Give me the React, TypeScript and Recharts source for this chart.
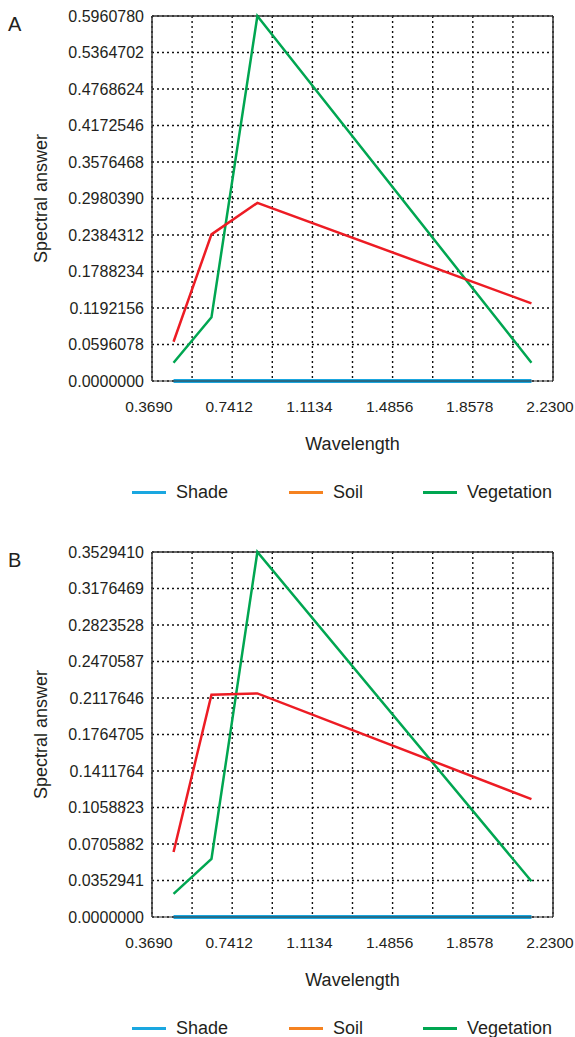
import { CartesianGrid, Legend, Line, LineChart, ReferenceLine, XAxis, YAxis } from "recharts";

// wavelengths (µm) of the four sampled bands
const wavelength = [0.469, 0.645, 0.858, 2.13];

// panel A
const shadeA = [0, 0, 0, 0];
const soilA = [0.0641, 0.2394, 0.2909, 0.1268];
const vegetationA = [0.0299, 0.104, 0.596078, 0.0299];
const yTicksA = [0, 0.0596078, 0.1192156, 0.1788234, 0.2384312, 0.298039,
  0.3576468, 0.4172546, 0.4768624, 0.5364702, 0.596078];

// panel B
const shadeB = [0, 0, 0, 0];
const soilB = [0.0629, 0.215, 0.2162, 0.114];
const vegetationB = [0.0224, 0.0561, 0.352941, 0.0345];
const yTicksB = [0, 0.0352941, 0.0705882, 0.1058823, 0.1411764, 0.1764705,
  0.2117646, 0.2470587, 0.2823528, 0.3176469, 0.352941];

// grid every 0.1861, labels on every other one
const xTicks = [0.369, 0.5551, 0.7412, 0.9273, 1.1134, 1.2995, 1.4856, 1.6717, 1.8578, 2.0439, 2.23];

const FONT = '"Liberation Sans", Arial, sans-serif';
const INK = "#231f20";
const BLUE = "#1aa7e0";
const RED = "#ed1c24";
const GREEN = "#00a651";
const ORANGE = "#f58220";

const legendItems = [
  { name: "Shade", color: BLUE, left: 132 },
  { name: "Soil", color: ORANGE, left: 289 },
  { name: "Vegetation", color: GREEN, left: 423 },
];

function LegendRow() {
  return (
    <div style={{ position: "relative", height: 20, fontFamily: FONT, fontSize: 18, color: INK }}>
      {legendItems.map((it) => (
        <div key={it.name} style={{ position: "absolute", left: it.left, top: 0, height: 20,
                                    display: "flex", alignItems: "center" }}>
          <span style={{ display: "inline-block", width: 34, height: 3, background: it.color }} />
          <span style={{ marginLeft: 10, lineHeight: "20px" }}>{it.name}</span>
        </div>
      ))}
    </div>
  );
}

function Panel({ letter, shade, soil, vegetation, yTicks }:
    { letter: string; shade: number[]; soil: number[]; vegetation: number[]; yTicks: number[] }) {
  const rows = wavelength.map((x, i) => ({ x, shade: shade[i], soil: soil[i], vegetation: vegetation[i] }));
  const yMax = yTicks[yTicks.length - 1];
  return (
    <div style={{ position: "relative", width: 575, height: 536 }}>
      <div style={{ position: "absolute", left: 8, top: 13, fontFamily: FONT, fontSize: 20, color: INK,
                    lineHeight: "22px" }}>{letter}</div>
      <LineChart width={575} height={536} data={rows}
                 margin={{ top: 16, right: 22, bottom: 34, left: 0 }}>
        <CartesianGrid stroke="#111" strokeDasharray="2 3" strokeWidth={1.4} />
        <XAxis dataKey="x" type="number" domain={[0.369, 2.23]} ticks={xTicks} interval={0}
               height={101} tickLine={false} tickMargin={14}
               stroke="#333" strokeWidth={1}
               tick={{ fontSize: 15.5, fill: INK, fontFamily: FONT, dx: -3 }}
               tickFormatter={(v: number, i: number) => (i % 2 === 0 ? v.toFixed(4) : "")}
               label={{ value: "Wavelength", position: "insideBottom", offset: 32,
                        style: { fontSize: 18, fill: INK, fontFamily: FONT } }} />
        <YAxis type="number" domain={[0, yMax]} ticks={yTicks} interval={0} width={152}
               tickLine={false} tickMargin={2} stroke="#333" strokeWidth={1.5}
               tick={{ fontSize: 16, fill: INK, fontFamily: FONT }}
               tickFormatter={(v: number) => v.toFixed(7)}
               label={{ value: "Spectral answer", angle: -90, position: "insideLeft", offset: 41,
                        style: { fontSize: 18, fill: INK, fontFamily: FONT, textAnchor: "middle" } }} />
        <ReferenceLine y={yMax} stroke="#333" strokeWidth={1.5} />
        <ReferenceLine x={2.23} stroke="#333" strokeWidth={1.5} />
        <Legend verticalAlign="bottom" height={20} content={() => <LegendRow />} />
        <Line type="linear" dataKey="shade" name="Shade" stroke={BLUE} strokeWidth={4}
              dot={false} isAnimationActive={false} />
        <Line type="linear" dataKey="vegetation" name="Vegetation" stroke={GREEN} strokeWidth={2.5}
              dot={false} isAnimationActive={false} />
        <Line type="linear" dataKey="soil" name="Soil" stroke={RED} strokeWidth={2.5}
              dot={false} isAnimationActive={false} />
      </LineChart>
    </div>
  );
}

export default function App() {
  return (
    <div style={{ position: "absolute", left: 0, top: 0, width: 575, height: 1037,
                  overflow: "hidden", background: "#fff" }}>
      <Panel letter="A" shade={shadeA} soil={soilA} vegetation={vegetationA} yTicks={yTicksA} />
      <Panel letter="B" shade={shadeB} soil={soilB} vegetation={vegetationB} yTicks={yTicksB} />
    </div>
  );
}
